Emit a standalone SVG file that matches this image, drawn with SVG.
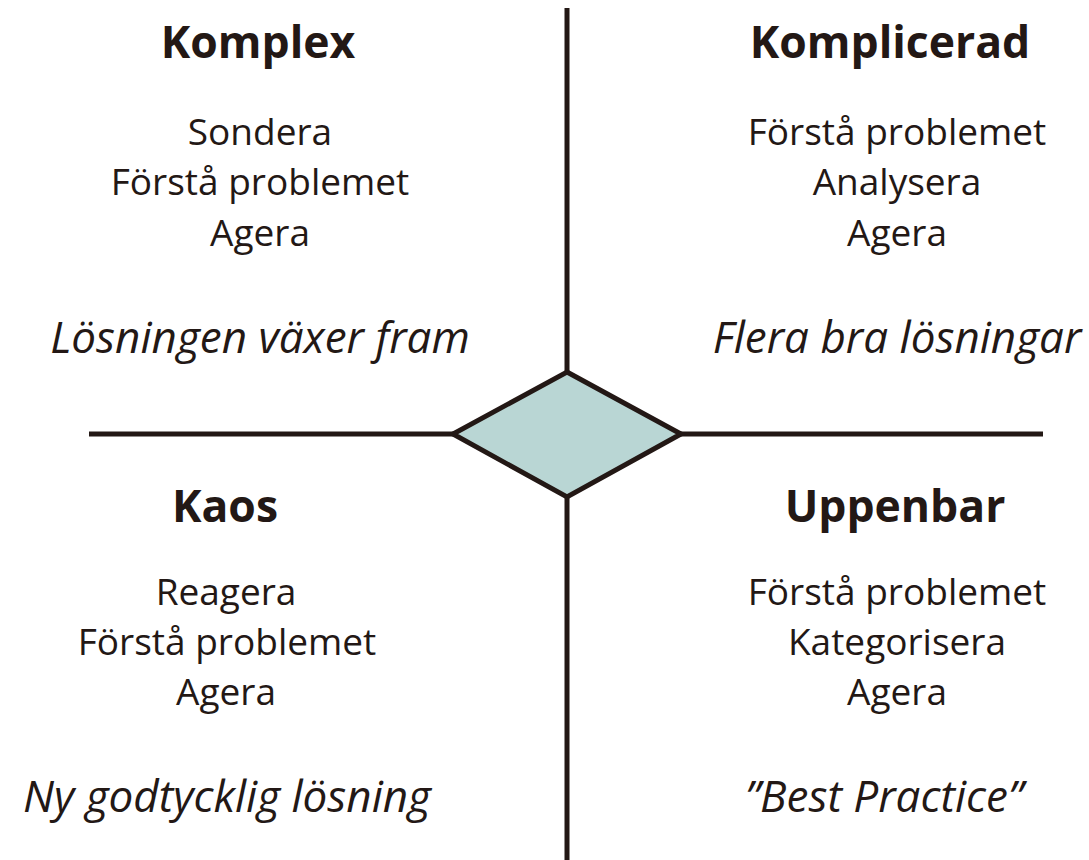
<svg xmlns="http://www.w3.org/2000/svg" width="1089" height="860" viewBox="0 0 1089 860">
<style>
.t{font-family:"Open Sans","Noto Sans","Liberation Sans",sans-serif;fill:#231815;text-anchor:middle;font-size:37px}
.h{font-weight:bold;font-size:44.5px}
.i{font-style:italic;font-size:44px}
.ln{stroke:#231815;stroke-width:5;fill:none}
</style>
<rect width="1089" height="860" fill="#ffffff"/>
<g id="connectors">
<line class="ln" x1="567" y1="8" x2="567" y2="372"/>
<line class="ln" x1="567" y1="497" x2="567" y2="860"/>
<line class="ln" x1="89" y1="434" x2="453" y2="434"/>
<line class="ln" x1="681" y1="434" x2="1043" y2="434"/>
</g>
<g id="center">
<polygon points="567,372 681,434 567,497 453,434" fill="#b9d6d4" stroke="#231815" stroke-width="5" stroke-linejoin="miter"/>
</g>
<g id="komplex">
<text class="t h" x="258" y="58">Komplex</text>
<text class="t" x="260" y="145">Sondera</text>
<text class="t" x="260" y="195">Förstå problemet</text>
<text class="t" x="260" y="246">Agera</text>
<text class="t i" x="260" y="353">Lösningen växer fram</text>
</g>
<g id="komplicerad">
<text class="t h" x="890" y="58">Komplicerad</text>
<text class="t" x="897" y="145">Förstå problemet</text>
<text class="t" x="897" y="195">Analysera</text>
<text class="t" x="897" y="246">Agera</text>
<text class="t i" x="897" y="353">Flera bra lösningar</text>
</g>
<g id="kaos">
<text class="t h" x="225" y="522">Kaos</text>
<text class="t" x="226" y="605">Reagera</text>
<text class="t" x="227" y="655">Förstå problemet</text>
<text class="t" x="226" y="705">Agera</text>
<text class="t i" x="227" y="812">Ny godtycklig lösning</text>
</g>
<g id="uppenbar">
<text class="t h" x="895" y="522">Uppenbar</text>
<text class="t" x="897" y="605">Förstå problemet</text>
<text class="t" x="897" y="655">Kategorisera</text>
<text class="t" x="897" y="705">Agera</text>
<text class="t i" x="884" y="812">”Best Practice”</text>
</g>
</svg>
